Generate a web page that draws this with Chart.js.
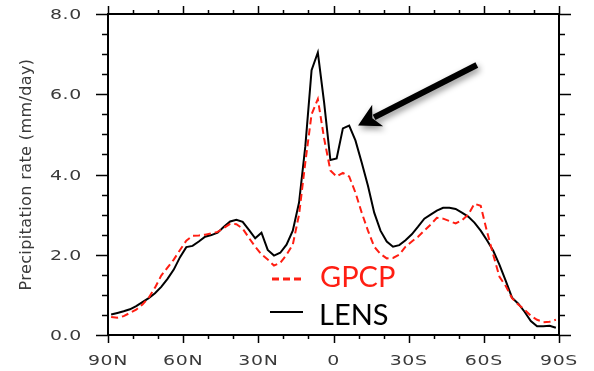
<!DOCTYPE html>
<html>
<head>
<meta charset="utf-8">
<script src="https://cdn.jsdelivr.net/npm/chart.js@4.4.1/dist/chart.umd.min.js"></script>
<style>
  html, body { margin: 0; padding: 0; background: #fff; }
  #wrap { position: relative; width: 594px; height: 371px; }
</style>
</head>
<body>
<div id="wrap"><canvas id="chart"></canvas></div>
<script>
// latitude band centres, north positive (2.5 deg grid)
const lats = [
  88.75, 86.25, 83.75, 81.25, 78.75, 76.25, 73.75, 71.25, 68.75, 66.25, 63.75, 61.25,
  58.75, 56.25, 53.75, 51.25, 48.75, 46.25, 43.75, 41.25, 38.75, 36.25, 33.75, 31.25,
  28.75, 26.25, 23.75, 21.25, 18.75, 16.25, 13.75, 11.25, 8.75, 6.25, 3.75, 1.25,
  -1.25, -3.75, -6.25, -8.75, -11.25, -13.75, -16.25, -18.75, -21.25, -23.75, -26.25, -28.75,
  -31.25, -33.75, -36.25, -38.75, -41.25, -43.75, -46.25, -48.75, -51.25, -53.75, -56.25, -58.75,
  -61.25, -63.75, -66.25, -68.75, -71.25, -73.75, -76.25, -78.75, -81.25, -83.75, -86.25, -88.75
];

// zonal mean precipitation (mm/day)
const gpcp = [
  0.45, 0.43, 0.47, 0.55, 0.63, 0.76, 0.93, 1.18, 1.48, 1.68, 1.88, 2.12,
  2.35, 2.47, 2.48, 2.50, 2.53, 2.57, 2.67, 2.77, 2.76, 2.65, 2.42, 2.20,
  2.01, 1.88, 1.73, 1.80, 2.00, 2.25, 3.00, 4.30, 5.50, 5.88, 4.90, 4.10,
  3.95, 4.04, 3.95, 3.55, 3.05, 2.60, 2.20, 2.02, 1.91, 1.92, 2.00, 2.20,
  2.33, 2.45, 2.60, 2.75, 2.92, 2.90, 2.84, 2.78, 2.86, 3.00, 3.27, 3.22,
  2.58, 2.00, 1.45, 1.22, 0.92, 0.76, 0.63, 0.48, 0.38, 0.32, 0.33, 0.38
];
const lens = [
  0.51, 0.55, 0.59, 0.64, 0.72, 0.82, 0.92, 1.04, 1.20, 1.40, 1.63, 1.94,
  2.19, 2.22, 2.33, 2.45, 2.49, 2.55, 2.70, 2.83, 2.87, 2.82, 2.62, 2.41,
  2.55, 2.12, 1.98, 2.05, 2.25, 2.60, 3.30, 4.70, 6.60, 7.04, 5.80, 4.36,
  4.40, 5.15, 5.22, 4.85, 4.30, 3.72, 3.05, 2.60, 2.33, 2.20, 2.24, 2.36,
  2.51, 2.70, 2.90, 3.00, 3.10, 3.17, 3.17, 3.14, 3.05, 2.95, 2.80, 2.60,
  2.36, 2.10, 1.75, 1.35, 0.93, 0.78, 0.58, 0.35, 0.22, 0.22, 0.23, 0.18
];

const seriesNames = ['GPCP', 'LENS'];
const yTitle = 'Precipitation rate (mm/day)';
// arrow annotation, in data units (lat, mm/day)
const arrowTail = [-57.2, 6.73];
const arrowTip = [-9.8, 5.22];

function latLabel(v) {
  if (v === 0) return '0';
  return v > 0 ? v + 'N' : (-v) + 'S';
}

const pts = vals => lats.map((lat, i) => ({ x: lat, y: vals[i] }));

// wide NCL-looking tick text: normal glyphs stretched sideways
function wideText(ctx, text, x, y, align) {
  ctx.save();
  ctx.translate(x, y);
  ctx.scale(1.35, 1);
  ctx.textAlign = align;
  ctx.fillText(text, 0, 0);
  ctx.restore();
}

// NCL-style frame with outward major/minor ticks
const frame = {
  id: 'frame',
  beforeDraw(chart) { chart.ctx.letterSpacing = '0.4px'; },
  afterDraw(chart) {
    const { ctx, chartArea: a, scales: { x, y } } = chart;
    ctx.save();
    ctx.letterSpacing = '0.5px';
    ctx.strokeStyle = '#000';
    ctx.lineCap = 'butt';
    ctx.lineWidth = 2;
    ctx.strokeRect(a.left, a.top, a.right - a.left, a.bottom - a.top);
    ctx.lineWidth = 1.5;
    ctx.beginPath();
    for (let lat = -90; lat <= 90; lat += 10) {
      const px = Math.round(x.getPixelForValue(lat)) + 0.5;
      const len = lat % 30 === 0 ? 8 : 4;
      ctx.moveTo(px, a.top); ctx.lineTo(px, a.top - len);
      ctx.moveTo(px, a.bottom); ctx.lineTo(px, a.bottom + len);
    }
    for (let v = 0; v <= 8; v += 0.5) {
      const py = Math.round(y.getPixelForValue(v)) + 0.5;
      const len = v % 2 === 0 ? 12 : 6;
      ctx.moveTo(a.left, py); ctx.lineTo(a.left - len, py);
      ctx.moveTo(a.right, py); ctx.lineTo(a.right + len, py);
    }
    ctx.stroke();

    // tick labels from the scales' own ticks
    ctx.font = '14px "DejaVu Sans"';
    ctx.fillStyle = '#3a3a3a';
    ctx.textBaseline = 'alphabetic';
    x.ticks.forEach((t, i) => wideText(ctx, t.label, x.getPixelForTick(i), a.bottom + 30, 'center'));
    y.ticks.forEach((t, i) => wideText(ctx, t.label, a.left - 26, y.getPixelForTick(i) + 5, 'right'));

    // legend inside plot
    ctx.letterSpacing = '0px';
    const ds = chart.data.datasets;
    ctx.lineWidth = 3;
    ctx.strokeStyle = ds[0].borderColor;
    ctx.setLineDash([7, 4]);
    ctx.beginPath(); ctx.moveTo(272, 279); ctx.lineTo(301, 279); ctx.stroke();
    ctx.setLineDash([]);
    ctx.lineWidth = 2;
    ctx.strokeStyle = ds[1].borderColor;
    ctx.beginPath(); ctx.moveTo(270, 312); ctx.lineTo(303, 312); ctx.stroke();
    ctx.font = '29px Lato';
    ctx.textAlign = 'left';
    ctx.fillStyle = ds[0].borderColor;
    ctx.fillText(ds[0].label, 320, 287);
    ctx.fillStyle = ds[1].borderColor;
    ctx.fillText(ds[1].label, 319, 325);

    // arrow
    const tx = x.getPixelForValue(arrowTip[0]), ty = y.getPixelForValue(arrowTip[1]);
    const sx = x.getPixelForValue(arrowTail[0]), sy = y.getPixelForValue(arrowTail[1]);
    const ang = Math.atan2(ty - sy, tx - sx);
    const hl = 22, hw = 12;
    const bx = tx - hl * Math.cos(ang), by = ty - hl * Math.sin(ang);
    ctx.shadowColor = 'rgba(0,0,0,0.45)';
    ctx.shadowBlur = 6;
    ctx.shadowOffsetX = 2;
    ctx.shadowOffsetY = 3;
    ctx.strokeStyle = '#000';
    ctx.fillStyle = '#000';
    ctx.lineWidth = 6;
    ctx.beginPath(); ctx.moveTo(sx, sy); ctx.lineTo(bx + 4 * Math.cos(ang), by + 4 * Math.sin(ang)); ctx.stroke();
    ctx.beginPath();
    ctx.moveTo(tx, ty);
    ctx.lineTo(bx + hw * Math.sin(ang), by - hw * Math.cos(ang));
    ctx.lineTo(bx + 6 * Math.cos(ang), by + 6 * Math.sin(ang));
    ctx.lineTo(bx - hw * Math.sin(ang), by + hw * Math.cos(ang));
    ctx.closePath();
    ctx.fill();
    ctx.restore();
  }
};

new Chart(document.getElementById('chart'), {
  type: 'line',
  data: {
    datasets: [
      { label: seriesNames[0], data: pts(gpcp), borderColor: '#ff1e12', borderWidth: 2, borderDash: [7, 4], pointRadius: 0, tension: 0 },
      { label: seriesNames[1], data: pts(lens), borderColor: '#000000', borderWidth: 2, pointRadius: 0, tension: 0 }
    ]
  },
  options: {
    responsive: true,
    maintainAspectRatio: false,
    animation: false,
    layout: { padding: { top: 14, right: 35, left: 0, bottom: 0 } },
    plugins: { legend: { display: false }, tooltip: { enabled: false } },
    scales: {
      x: {
        type: 'linear', reverse: true, min: -90, max: 90,
        grid: { display: false, drawTicks: false },
        border: { display: false },
        ticks: { display: false, stepSize: 30, autoSkip: false, callback: v => latLabel(v) },
        afterFit(s) { s.height = 36; s.paddingLeft = 0; s.paddingRight = 0; }
      },
      y: {
        min: 0, max: 8,
        grid: { display: false, drawTicks: false },
        border: { display: false },
        ticks: { display: false, stepSize: 2, callback: v => v.toFixed(1) },
        title: { display: true, text: yTitle, color: '#3a3a3a', font: { family: 'DejaVu Sans', size: 16 }, padding: { top: 17, bottom: 0 } },
        afterFit(s) { s.width = 108; s.paddingTop = 0; s.paddingBottom = 0; }
      }
    }
  },
  plugins: [frame]
});
</script>
</body>
</html>
